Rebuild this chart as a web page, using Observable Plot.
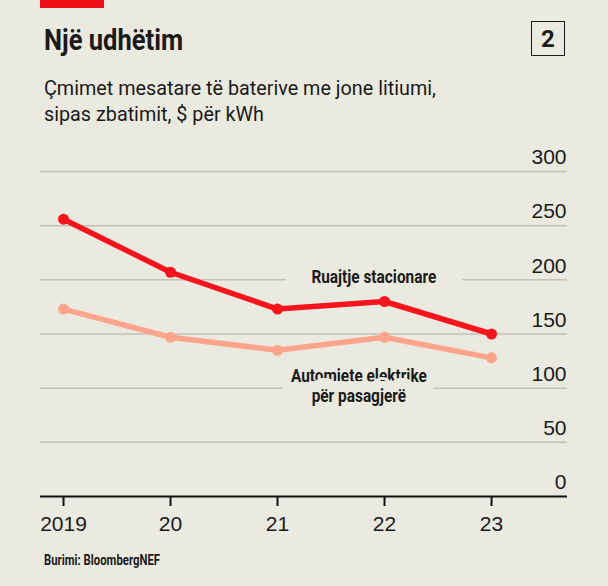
<!DOCTYPE html>
<html>
<head>
<meta charset="utf-8">
<script src="https://cdn.jsdelivr.net/npm/d3@7"></script>
<script src="https://cdn.jsdelivr.net/npm/@observablehq/plot@0.6"></script>
<style>
  html, body { margin: 0; padding: 0; background: #ebeae0; }
  #wrap { position: relative; width: 608px; height: 586px; background: #ebeae0; overflow: hidden;
          font-family: Roboto, "DejaVu Sans Condensed", sans-serif; color: #1a1a1a; }
  #redbar { position: absolute; left: 40px; top: 0; width: 64px; height: 8px; background: #ee1118; }
  .cond { position: absolute; white-space: nowrap; transform-origin: 0 0; }
  #title { left: 44px; top: 26px; font-size: 29.5px; font-weight: bold; line-height: 1; }
  #num { position: absolute; left: 531px; top: 21px; width: 32px; height: 33px; border: 1.5px solid #1a1a1a;
         font-family: Roboto, sans-serif; font-size: 24px; font-weight: bold; text-align: center; line-height: 34px; }
  #subtitle { left: 44px; top: 76px; font-size: 21px; line-height: 25.5px; }
  #chart { position: absolute; left: 0; top: 140px; }
  #source { left: 44px; top: 553px; font-size: 14px; font-weight: bold; line-height: 1; }
</style>
</head>
<body>
<div id="wrap">
  <div id="redbar"></div>
  <div id="title" class="cond">Një udhëtim</div>
  <div id="num">2</div>
  <div id="subtitle" class="cond"><span id="sub1">Çmimet mesatare të baterive me jone litiumi,</span><br>sipas zbatimit, $ për kWh</div>
  <div id="chart"></div>
  <div id="source" class="cond">Burimi: BloombergNEF</div>
</div>
<script>
const years = [2019, 2020, 2021, 2022, 2023];
const xTickLabels = ["2019", "20", "21", "22", "23"];
const stationary = [256, 207, 173, 180, 150];
const passengerEV = [173, 147, 135, 147, 128];
const yTicks = [0, 50, 100, 150, 200, 250, 300];
const stationaryLabel = ["Ruajtje stacionare"];
const evLabel = ["Automjete elektrike", "për pasagjerë"];
const stationaryLabelPos = {year: 2021.9, value: 202.6};
const evLabelPos = {year: 2021.76, values: [110.6, 92.2]};

const RED = "#f8141c";
const PINK = "#fda48c";
const BG = "#ebeae0";
const LABEL_FONT = "Roboto, DejaVu Sans Condensed, sans-serif";
const LABEL_SIZE = 17.5;
const CONDENSE = 0.88;

const evRows = years.map((y, i) => ({year: y, value: passengerEV[i]}));
const stRows = years.map((y, i) => ({year: y, value: stationary[i]}));

const chart = Plot.plot({
  width: 608,
  height: 400,
  marginLeft: 40,
  marginRight: 41,
  marginTop: 31,
  marginBottom: 44,
  style: {background: "transparent", overflow: "visible"},
  x: {domain: [2018.785, 2023.71]},
  y: {domain: [0, 300]},
  marks: [
    Plot.gridY(yTicks.filter(d => d > 0), {stroke: "#c3c2b9", strokeWidth: 1.5, strokeOpacity: 1}),
    Plot.text(stationaryLabel, {x: () => stationaryLabelPos.year, y: () => stationaryLabelPos.value, text: d => d,
      fontSize: LABEL_SIZE, fontWeight: "bold", fontFamily: LABEL_FONT,
      fill: "#1a1a1a", stroke: BG, strokeWidth: 60, paintOrder: "stroke"}),
    Plot.text(evLabel, {x: () => evLabelPos.year, y: (d, i) => evLabelPos.values[i], text: d => d,
      fontSize: LABEL_SIZE, fontWeight: "bold", fontFamily: LABEL_FONT,
      fill: "#1a1a1a", stroke: BG, strokeWidth: 22, paintOrder: "stroke"}),
    Plot.ruleY([0], {stroke: "#111", strokeWidth: 2}),
    Plot.axisX(years, {tickFormat: (d, i) => xTickLabels[i], tickSize: 10, tickPadding: 10, fontSize: 21,
      fontFamily: "Liberation Sans, Arial, sans-serif", stroke: "#111", strokeWidth: 2, fill: "#1a1a1a", label: null}),
    Plot.axisY(yTicks, {anchor: "right", tickSize: 0, tickPadding: 0, textAnchor: "end", dx: -1, dy: -14,
      fontSize: 21, fontFamily: "Liberation Sans, Arial, sans-serif", fill: "#1a1a1a", label: null}),
    Plot.line(evRows, {x: "year", y: "value", stroke: PINK, strokeWidth: 5.5, strokeLinejoin: "round"}),
    Plot.dot(evRows, {x: "year", y: "value", fill: PINK, r: 5.5}),
    Plot.line(stRows, {x: "year", y: "value", stroke: RED, strokeWidth: 5.5, strokeLinejoin: "round"}),
    Plot.dot(stRows, {x: "year", y: "value", fill: RED, r: 5.5})
  ]
});
document.getElementById("chart").appendChild(chart);

// condensed look: squeeze label glyphs horizontally
d3.select(chart).selectAll('g[aria-label="text"] text').each(function() {
  const w = this.getComputedTextLength();
  this.setAttribute("textLength", (w * CONDENSE).toFixed(1));
  this.setAttribute("lengthAdjust", "spacingAndGlyphs");
});
// same for the HTML headings
function squeeze(el, measureEl, targetWidth) {
  const w = (measureEl || el).getBoundingClientRect().width;
  el.style.transform = `scaleX(${targetWidth / w})`;
}
squeeze(document.getElementById("title"), null, 139);
squeeze(document.getElementById("subtitle"), document.getElementById("sub1"), 392);
squeeze(document.getElementById("source"), null, 116);
</script>
</body>
</html>
